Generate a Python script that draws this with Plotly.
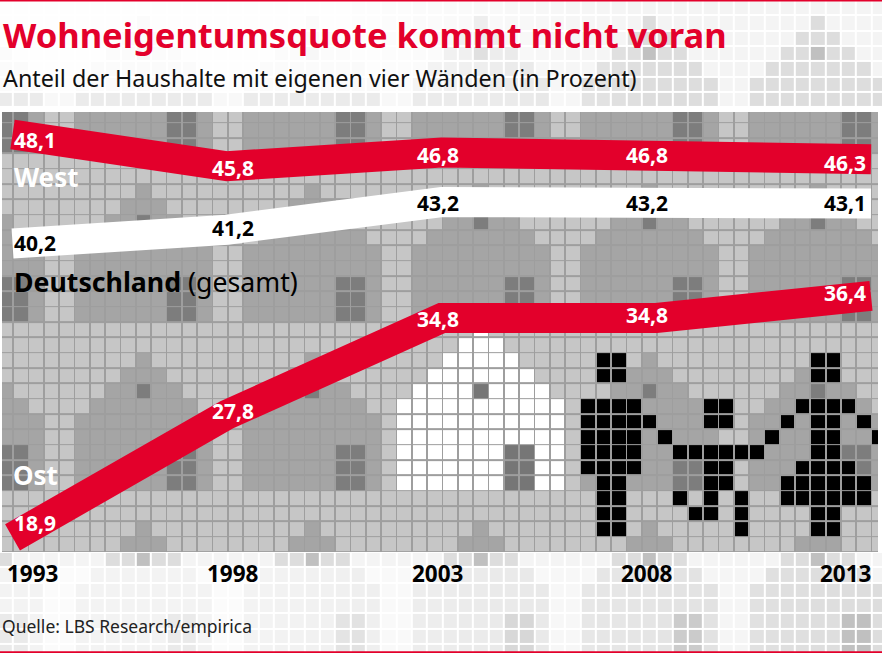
import plotly.graph_objects as go

YEARS = [1993, 1998, 2003, 2008, 2013]
WEST = [48.1, 45.8, 46.8, 46.8, 46.3]
GESAMT = [40.2, 41.2, 43.2, 43.2, 43.1]
OST = [18.9, 27.8, 34.8, 34.8, 36.4]

W, H = 882, 653
RED = "#e3002b"
PITCH = 15.33
X0 = -2.2      # pixel of column boundary 0
Y0 = 398.5     # pixel of row boundary 0
PANEL = (2, 878, 112, 552)
GAP = 0.055    # half of the line between two tiles, in tile units
LINE_GREY = 158

# 11 x 11 repeating house mosaic (index: row (k+3)%11, column C%11)
TILE = [
    ".........g.",
    "........ggg",
    "g......ggdg",
    "gg....ggggg",
    "ggg..gggggg",
    "ggg..gggggg",
    "ddg..gggggg",
    "ddg..gggggg",
    "ddg..gggggg",
    "...........",
    "...........",
]
WHITE_SPANS = {-5: (31, 31), -4: (30, 32), -3: (29, 33), -2: (28, 34), -1: (27, 35),
               0: (26, 36), 1: (26, 36), 2: (26, 36), 3: (26, 36), 4: (26, 36), 5: (26, 36)}
WHITE_HOLES = [(-1, 31), (3, 33), (3, 34), (4, 33), (4, 34), (5, 33), (5, 34)]
BLACK_SPANS = {
    -3: [(39, 40), (53, 54)],
    -2: [(39, 40), (53, 54)],
    0: [(38, 41), (46, 47), (52, 55)],
    1: [(38, 41), (42, 42), (46, 47), (51, 51), (53, 54), (56, 56)],
    2: [(38, 41), (43, 43), (50, 50), (53, 54), (57, 57)],
    3: [(38, 41), (44, 49), (53, 54)],
    4: [(38, 41), (46, 47), (52, 55)],
    5: [(39, 40), (46, 47), (51, 56)],
    6: [(39, 40), (44, 44), (46, 46), (48, 48), (51, 56)],
    7: [(39, 40), (45, 46), (48, 48), (53, 54)],
    8: [(39, 40), (48, 48), (53, 54)],
}

COLS = list(range(0, 58))
ROWS = list(range(-26, 17))


def panel_level(c, k):
    if k in BLACK_SPANS and any(a <= c <= b for a, b in BLACK_SPANS[k]):
        return 0
    if (k, c) in WHITE_HOLES:
        return 118
    if k in WHITE_SPANS and WHITE_SPANS[k][0] <= c <= WHITE_SPANS[k][1]:
        return 255
    return {".": 198, "g": 165, "d": 125}[TILE[(k + 3) % 11][c % 11]]


def outer_level(c, k):
    if -19 <= k <= 9:
        return None
    x = c * PITCH
    if k < -18:
        s = min(max((x - 350) / 300, 0), 1)
        a = 0.05 + 0.33 * s
        if k >= -20:
            a = max(a, 0.22)
    else:
        s = min(max((x - 250) / 600, 0), 1)
        a = 0.13 + 0.25 * s
        if k == 10:
            a = 0.38
    base = {".": 225, "g": 165, "d": 90}[TILE[(k + 3) % 11][c % 11]]
    return 255 - a * (255 - base)


def edges(indices):
    out = []
    for i in indices:
        out += [i - GAP, i + GAP]
    out.append(indices[-1] + 1 - GAP)
    return out


def panel_grid():
    rows = []
    for k in ROWS:
        rows.append([LINE_GREY] * (2 * len(COLS)))
        row = []
        for c in COLS:
            row += [LINE_GREY, panel_level(c, k)]
        rows.append(row)
    return rows


GRAY = [[0, "#000000"], [1, "#ffffff"]]
fig = go.Figure()

common = dict(colorscale=GRAY, zmin=0, zmax=255, showscale=False, hoverinfo="skip")
fig.add_trace(go.Heatmap(z=[[outer_level(c, k) for c in COLS] for k in ROWS],
                         x=[c + 0.5 for c in COLS], y=[k + 0.5 for k in ROWS], xgap=2, ygap=2,
                         xaxis="x", yaxis="y", **common))
fig.add_trace(go.Heatmap(z=panel_grid(), x=edges(COLS), y=edges(ROWS),
                         xaxis="x2", yaxis="y2", **common))

for vals, col in ((GESAMT, "#ffffff"), (WEST, RED), (OST, RED)):
    fig.add_trace(go.Scatter(x=YEARS, y=vals, mode="lines", xaxis="x3", yaxis="y3",
                             line=dict(color=col, width=30), hoverinfo="skip"))

px_l, px_r, px_t, px_b = PANEL
dom_x = [px_l / W, px_r / W]
dom_y = [1 - px_b / H, 1 - px_t / H]
hidden = dict(visible=False, fixedrange=True)
fig.update_layout(
    width=W, height=H, margin=dict(l=0, r=0, t=0, b=0), showlegend=False,
    paper_bgcolor="#ffffff", plot_bgcolor="rgba(0,0,0,0)",
    xaxis=dict(domain=[0, 1], range=[(0 - X0) / PITCH, (W - X0) / PITCH], **hidden),
    yaxis=dict(domain=[0, 1], range=[(H - Y0) / PITCH, (0 - Y0) / PITCH], **hidden),
    xaxis2=dict(domain=dom_x, range=[(px_l - X0) / PITCH, (px_r - X0) / PITCH], anchor="y2", **hidden),
    yaxis2=dict(domain=dom_y, range=[(px_b - Y0) / PITCH, (px_t - Y0) / PITCH], anchor="x2", **hidden),
    xaxis3=dict(domain=dom_x, range=[1992.755, 2013.163], anchor="y3", **hidden),
    yaxis3=dict(domain=dom_y, range=[17.84, 49.73], anchor="x3", **hidden),
    shapes=[
        dict(type="rect", xref="paper", yref="paper", x0=0, x1=1, y0=1 - 1.6 / H, y1=1,
             fillcolor=RED, line_width=0),
        dict(type="rect", xref="paper", yref="paper", x0=0, x1=1, y0=0, y1=1.8 / H,
             fillcolor=RED, line_width=0),
    ],
)


def fmt(v):
    return f"{v:.1f}".replace(".", ",")


SANS = "Noto Sans"
XSHIFT = [22.5, 5.5, -4, -9.5, -26]
YSHIFT = {
    "w": [-5.5, -2, -2.6, -2.6, -3.7],
    "g": [0.5, 1.7, -1, -1, 0.5],
    "o": [14.4, 3.6, -1, 3, 2.9],
}
anns = []
for vals, col, key in ((WEST, "#ffffff", "w"), (GESAMT, "#000000", "g"), (OST, "#ffffff", "o")):
    for i, (yr, v) in enumerate(zip(YEARS, vals)):
        anns.append(dict(x=yr, y=v, xref="x3", yref="y3", text=f"<b>{fmt(v)}</b>", showarrow=False,
                         xshift=XSHIFT[i], yshift=YSHIFT[key][i], xanchor="center", yanchor="middle",
                         font=dict(family=SANS, size=21, color=col)))
for i, yr in enumerate(YEARS):
    anns.append(dict(x=yr, y=1 - 573 / H, xref="x3", yref="paper", text=f"<b>{yr}</b>", showarrow=False,
                     xshift=XSHIFT[i] - (3 if i == 0 else 0), xanchor="center", yanchor="middle",
                     font=dict(family=SANS, size=22.5, color="#000000")))


def label(px, py, text, size, color, family=SANS):
    anns.append(dict(x=px / W, y=1 - py / H, xref="paper", yref="paper", text=text, showarrow=False,
                     xanchor="left", yanchor="middle", font=dict(family=family, size=size, color=color)))


label(1, 34, "<b>Wohneigentumsquote kommt nicht voran</b>", 34.5, RED)
label(1, 78, "Anteil der Haushalte mit eigenen vier Wänden (in Prozent)", 23.3, "#111111")
label(12, 177, "<b>West</b>", 26, "#ffffff")
label(12, 282, "<b>Deutschland</b> (gesamt)", 26.7, "#000000")
label(11, 475, "<b>Ost</b>", 26, "#ffffff")
label(0, 626, "Quelle: LBS Research/empirica", 17.5, "#222222")
fig.update_layout(annotations=anns)

fig.write_html("out.html", config={"displayModeBar": False},
               post_script="document.body.style.margin='0';")
